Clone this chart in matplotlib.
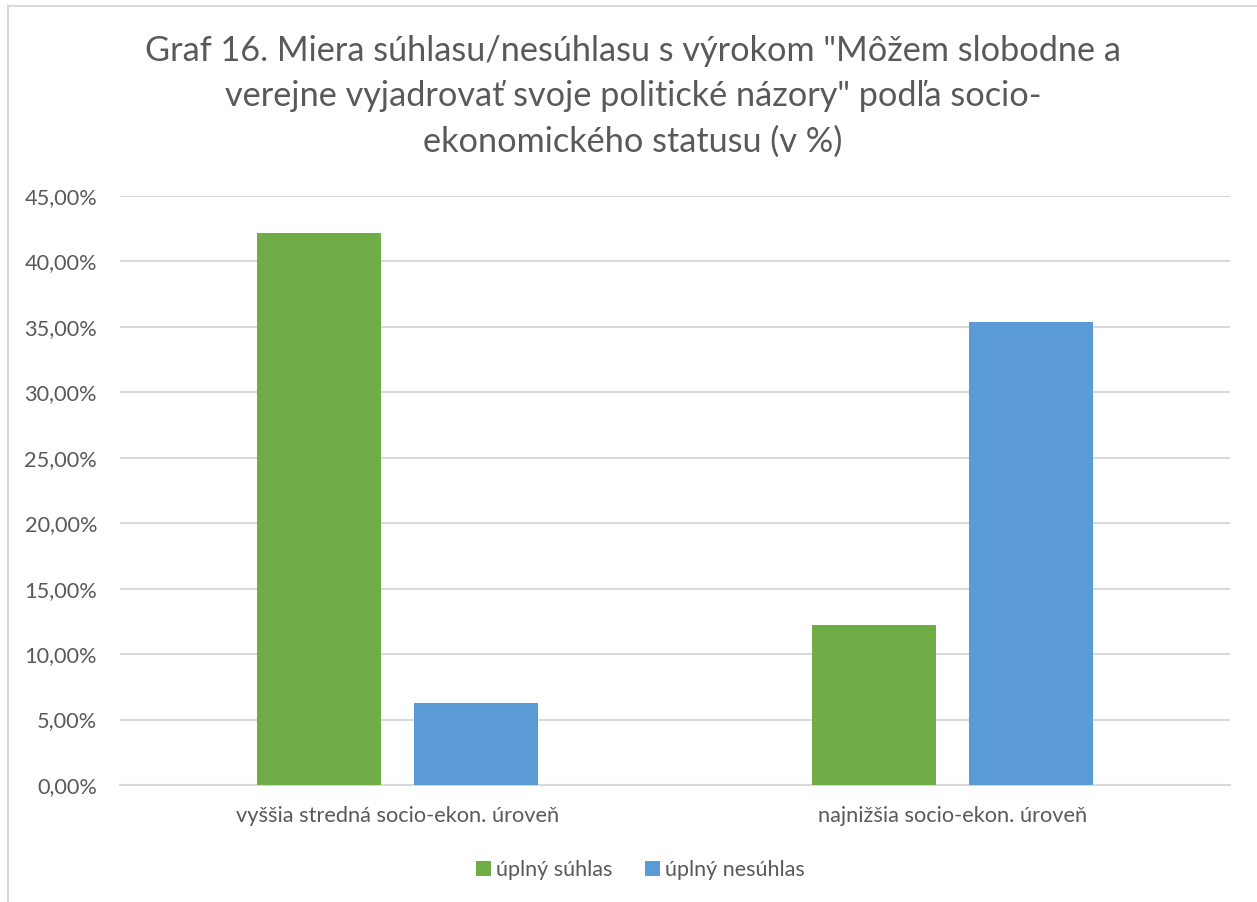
import matplotlib.pyplot as plt
from matplotlib.patches import Rectangle
from matplotlib.ticker import FuncFormatter

categories = ["vyššia stredná socio-ekon. úroveň", "najnižšia socio-ekon. úroveň"]
series_names = ["úplný súhlas", "úplný nesúhlas"]
suhlas = [42.2, 12.2]
nesuhlas = [6.3, 35.4]
yticks = [0, 5, 10, 15, 20, 25, 30, 35, 40, 45]

title = ('Graf 16. Miera súhlasu/nesúhlasu s výrokom "Môžem slobodne a\n'
         'verejne vyjadrovať svoje politické názory" podľa socio-\n'
         'ekonomického statusu (v %)')

plt.rcParams['font.family'] = ['Lato', 'DejaVu Sans']
text_col = '#595959'
green = '#70AD47'
blue = '#5B9BD5'

fig = plt.figure(figsize=(12.57, 9.02), dpi=100)
ax = fig.add_axes([120 / 1257, 117 / 902, 1110 / 1257, 589 / 902])

# outer chart frame (cut off at right and bottom)
fig.patches.append(Rectangle((8 / 1257, -0.1), 1.2, (902 - 6) / 902 + 0.1,
                             transform=fig.transFigure, fill=False,
                             edgecolor='#D9D9D9', linewidth=1.5))

w = 0.2234
off = 0.1423
x = range(len(categories))
ax.bar([i - off for i in x], suhlas, width=w, color=green, label=series_names[0], zorder=3)
ax.bar([i + off for i in x], nesuhlas, width=w, color=blue, label=series_names[1], zorder=3)

ax.set_xlim(-0.5, 1.5)
ax.set_ylim(0, 45)
ax.set_yticks(yticks)
ax.yaxis.set_major_formatter(FuncFormatter(lambda v, p: f"{v:.2f}".replace('.', ',') + '%'))
ax.set_xticks(list(x))
ax.set_xticklabels(categories)
ax.grid(axis='y', color='#D9D9D9', linewidth=1.5, zorder=0)
for s in ['top', 'right', 'left']:
    ax.spines[s].set_visible(False)
ax.spines['bottom'].set_color('#D9D9D9')
ax.spines['bottom'].set_linewidth(1.5)
ax.tick_params(axis='both', length=0, labelsize=15.7, colors=text_col)
ax.tick_params(axis='y', pad=16.5)
ax.tick_params(axis='x', pad=15)

fig.text(0.5035, 0.961, title, ha='center', va='top', fontsize=24.7,
         color=text_col, linespacing=1.5)

ax.legend(loc='upper center', bbox_to_anchor=(0.469, -0.095), ncol=2, frameon=False,
          fontsize=15.5, labelcolor=text_col, handlelength=0.7, handleheight=0.7,
          handletextpad=0.25, columnspacing=1.5)

fig.savefig('out.png', dpi=100, facecolor='white')
